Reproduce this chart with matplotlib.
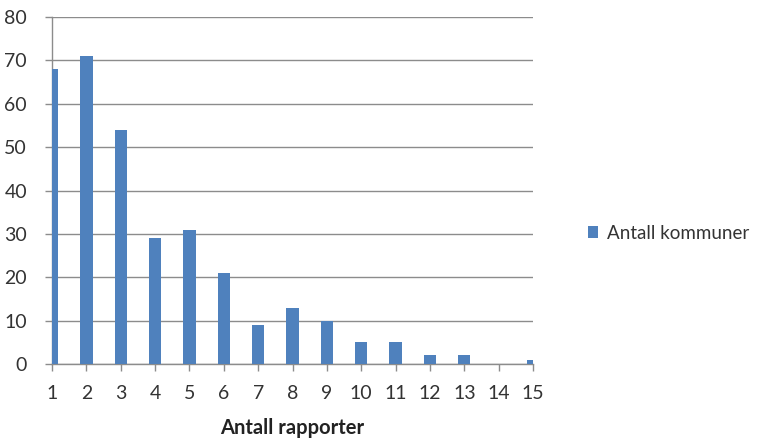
import matplotlib
matplotlib.use("Agg")
import matplotlib.pyplot as plt
from matplotlib.patches import Patch

plt.rcParams['font.family'] = ['Lato', 'DejaVu Sans']

reports = list(range(1, 16))
municipalities = [68, 71, 54, 29, 31, 21, 9, 13, 10, 5, 5, 2, 2, 0, 1]
y_ticks = [0, 10, 20, 30, 40, 50, 60, 70, 80]

bar_color = '#4F81BD'
line_color = '#8C8C8C'

fig = plt.figure(figsize=(7.6, 4.38), dpi=100)
ax = fig.add_axes([52 / 760, 1 - 364 / 438, (533 - 52) / 760, (364 - 17) / 438])

ax.bar(reports, municipalities, width=0.36, color=bar_color, zorder=3)

ax.set_xlim(1, 15)
ax.set_ylim(0, 80)
ax.set_xticks(reports)
ax.set_xticklabels([str(r) for r in reports])
ax.set_yticks(y_ticks)
ax.set_yticklabels([str(v) for v in y_ticks])

ax.yaxis.grid(True, color=line_color, linewidth=1.0, zorder=0)
ax.set_axisbelow(True)

for side in ('top', 'right'):
    ax.spines[side].set_visible(False)
for side in ('left', 'bottom'):
    ax.spines[side].set_color(line_color)
    ax.spines[side].set_linewidth(1.0)

ax.tick_params(axis='both', colors=line_color, length=5, width=1.0,
               labelcolor='#333333', labelsize=14)
ax.tick_params(axis='x', pad=10)
ax.tick_params(axis='y', pad=13)

ax.set_xlabel('Antall rapporter', fontsize=14.5, fontweight='bold',
              color='#222222', labelpad=12)

handle = Patch(facecolor=bar_color, edgecolor='none')
fig.legend([handle], ['Antall kommuner'], loc='center left',
           bbox_to_anchor=(571 / 760, 1 - 233 / 438), frameon=False,
           handlelength=0.55, handleheight=0.55, handletextpad=0.45,
           fontsize=13.5, labelcolor='#333333')

fig.savefig('out.png', dpi=100)
